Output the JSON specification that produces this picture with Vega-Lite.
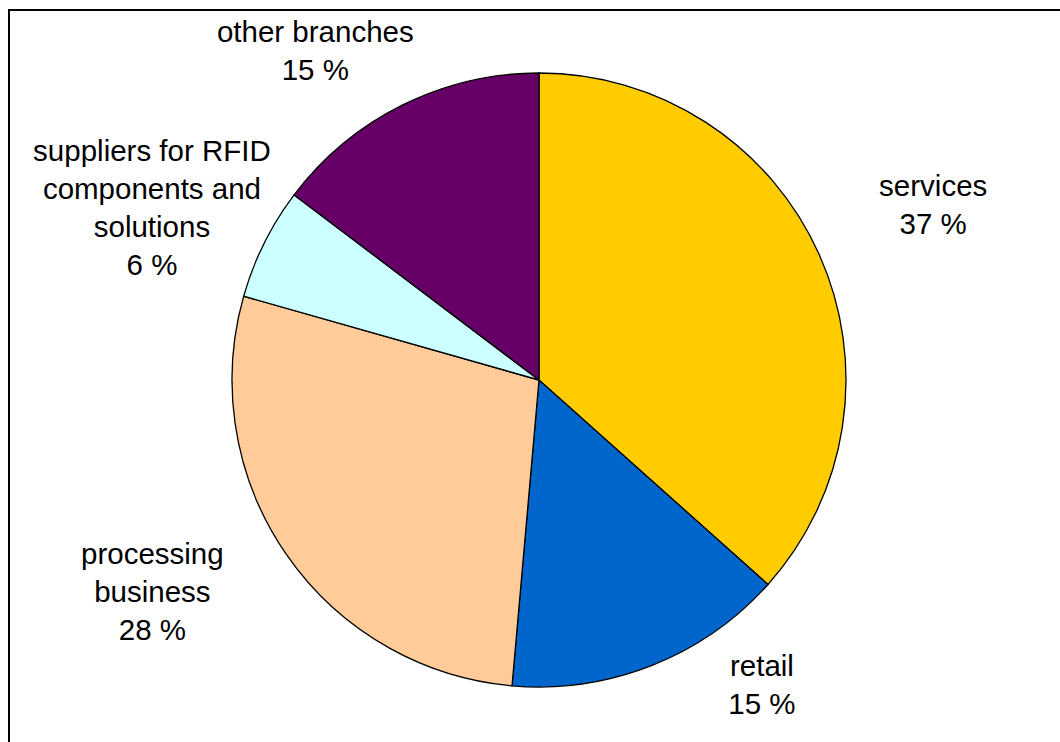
{
  "$schema": "https://vega.github.io/schema/vega-lite/v6.json",
  "width": 1060,
  "height": 740,
  "autosize": {"type": "none"},
  "padding": {"left": 9, "top": 10, "right": -9, "bottom": -8},
  "background": "white",
  "config": {
    "view": {"stroke": "black", "strokeWidth": 2},
    "text": {"font": "Liberation Sans", "fontSize": 29.5, "lineHeight": 38, "lineBreak": "\n", "align": "center", "baseline": "middle", "color": "black"}
  },
  "data": {
    "values": [
      {"rank": 1, "name": "services", "value": 36.6, "label": "services\n37 %"},
      {"rank": 2, "name": "retail", "value": 14.8, "label": "retail\n15 %"},
      {"rank": 3, "name": "processing business", "value": 28.0, "label": "processing\nbusiness\n28 %"},
      {"rank": 4, "name": "suppliers for RFID components and solutions", "value": 5.9, "label": "suppliers for RFID\ncomponents and\nsolutions\n6 %"},
      {"rank": 5, "name": "other branches", "value": 14.7, "label": "other branches\n15 %"}
    ]
  },
  "layer": [
    {
      "mark": {"type": "point", "opacity": 0},
      "encoding": {
        "x": {"field": "rank", "type": "quantitative", "axis": null},
        "y": {"field": "value", "type": "quantitative", "axis": null}
      }
    },
    {
      "mark": {"type": "arc", "outerRadius": 307, "stroke": "black", "strokeWidth": 1.3},
      "encoding": {
        "theta": {"field": "value", "type": "quantitative", "stack": true},
        "order": {"field": "rank", "type": "quantitative"},
        "color": {
          "field": "name", "type": "nominal", "legend": null,
          "scale": {
            "domain": ["services", "retail", "processing business", "suppliers for RFID components and solutions", "other branches"],
            "range": ["#FFCC00", "#0066CC", "#FFCC99", "#CCFFFF", "#660066"]
          }
        }
      }
    },
    {
      "mark": {"type": "text", "radius": 410, "dx": 20, "dy": -25},
      "encoding": {
        "theta": {"field": "value", "type": "quantitative", "stack": true},
        "order": {"field": "rank", "type": "quantitative"},
        "text": {"condition": {"test": "datum.name === 'services'", "field": "label"}, "value": ""}
      }
    },
    {
      "mark": {"type": "text", "radius": 410, "dx": 72, "dy": -94},
      "encoding": {
        "theta": {"field": "value", "type": "quantitative", "stack": true},
        "order": {"field": "rank", "type": "quantitative"},
        "text": {"condition": {"test": "datum.name === 'retail'", "field": "label"}, "value": ""}
      }
    },
    {
      "mark": {"type": "text", "radius": 410, "dx": -49, "dy": -58},
      "encoding": {
        "theta": {"field": "value", "type": "quantitative", "stack": true},
        "order": {"field": "rank", "type": "quantitative"},
        "text": {"condition": {"test": "datum.name === 'processing business'", "field": "label"}, "value": ""}
      }
    },
    {
      "mark": {"type": "text", "radius": 410, "dx": -20, "dy": -45},
      "encoding": {
        "theta": {"field": "value", "type": "quantitative", "stack": true},
        "order": {"field": "rank", "type": "quantitative"},
        "text": {"condition": {"test": "datum.name === 'suppliers for RFID components and solutions'", "field": "label"}, "value": ""}
      }
    },
    {
      "mark": {"type": "text", "radius": 410, "dx": -41, "dy": 20},
      "encoding": {
        "theta": {"field": "value", "type": "quantitative", "stack": true},
        "order": {"field": "rank", "type": "quantitative"},
        "text": {"condition": {"test": "datum.name === 'other branches'", "field": "label"}, "value": ""}
      }
    }
  ]
}
